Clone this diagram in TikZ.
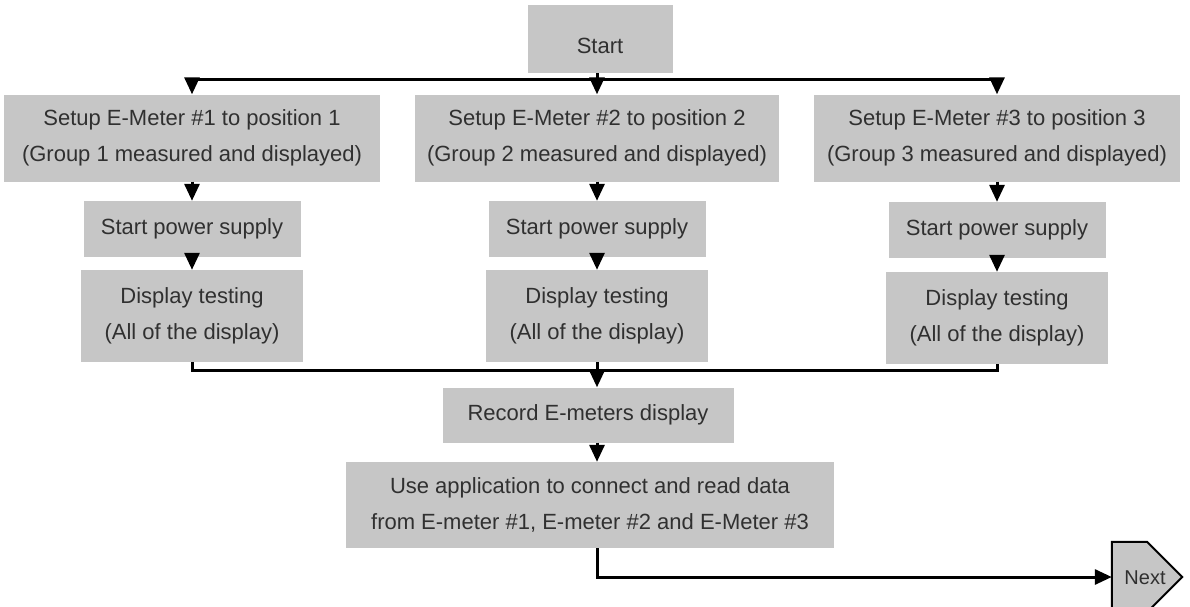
\documentclass[tikz,border=0pt]{standalone}
\usepackage{fontspec}
\setmainfont{Liberation Sans}
\usetikzlibrary{arrows.meta}
\definecolor{boxgray}{HTML}{C6C6C6}
\definecolor{txt}{HTML}{303030}
\tikzset{
  box/.style={fill=boxgray, inner sep=0pt, align=center, text=txt,
    font=\fontsize{22}{36}\selectfont},
  ln/.style={line width=3pt, draw=black},
  arr/.style={line width=3pt, draw=black, -{Triangle[length=17pt,width=15pt]}},
}
\begin{document}
\begin{tikzpicture}[x=1pt,y=-1pt]
\useasboundingbox (0,0) rectangle (1190,606);
% boxes
\node[box, minimum width=145, minimum height=68] (start) at (600,39) {\raisebox{-14pt}[0pt][0pt]{Start}};
\node[box, minimum width=376, minimum height=87] (s1) at (192,138) {Setup E-Meter \#1 to position 1\\(Group 1 measured and displayed)};
\node[box, minimum width=364, minimum height=87] (s2) at (597,138) {Setup E-Meter \#2 to position 2\\(Group 2 measured and displayed)};
\node[box, minimum width=366, minimum height=87] (s3) at (997,138) {Setup E-Meter \#3 to position 3\\(Group 3 measured and displayed)};
\node[box, minimum width=217, minimum height=56] (p1) at (192,229) {Start power supply};
\node[box, minimum width=217, minimum height=56] (p2) at (597,229) {Start power supply};
\node[box, minimum width=217, minimum height=56] (p3) at (997,230) {Start power supply};
\node[box, minimum width=222, minimum height=92] (d1) at (192,316) {Display testing\\(All of the display)};
\node[box, minimum width=222, minimum height=92] (d2) at (597,316) {Display testing\\(All of the display)};
\node[box, minimum width=222, minimum height=92] (d3) at (997,318) {Display testing\\(All of the display)};
\node[box, minimum width=291, minimum height=55] (rec) at (588,415) {Record E-meters display};
\node[box, minimum width=488, minimum height=86] (use) at (590,505) {Use application to connect and read data\\from E-meter \#1, E-meter \#2 and E-Meter \#3};
% Next (off-page connector)
\node[inner sep=0pt, minimum width=70, minimum height=70, text=txt,
  font=\fontsize{20}{24}\selectfont] (next) at (1147,577) {};
\draw[fill=boxgray, line width=2pt] (next.north west) -- (next.north) -- (next.east)
  -- (next.south) -- (next.south west) -- cycle;
\node[text=txt, font=\fontsize{20}{24}\selectfont] (nexttext) at (1145,578) {Next};
% connectors
\coordinate (bar) at (597,79);
\coordinate (mrg) at (597,370);
\draw[arr] (start.south -| s2.north) -- (s2.north);
\draw[ln] (s1.north |- bar) -- (s3.north |- bar);
\draw[arr] (s1.north |- bar) -- (s1.north);
\draw[arr] (s3.north |- bar) -- (s3.north);
\draw[arr] (s1.south) -- (p1.north);
\draw[arr] (s2.south) -- (p2.north);
\draw[arr] (s3.south) -- (p3.north);
\draw[arr] (p1.south) -- (d1.north);
\draw[arr] (p2.south) -- (d2.north);
\draw[arr] (p3.south) -- (d3.north);
\draw[ln] (d1.south) -- (d1.south |- mrg) -- (d3.south |- mrg) -- (d3.south);
\draw[arr] (d2.south) -- (d2.south |- rec.north);
\draw[arr] (rec.south -| d2.south) -- (d2.south |- use.north);
\draw[arr] (use.south -| d2.south) |- (next.west);
\end{tikzpicture}
\end{document}
